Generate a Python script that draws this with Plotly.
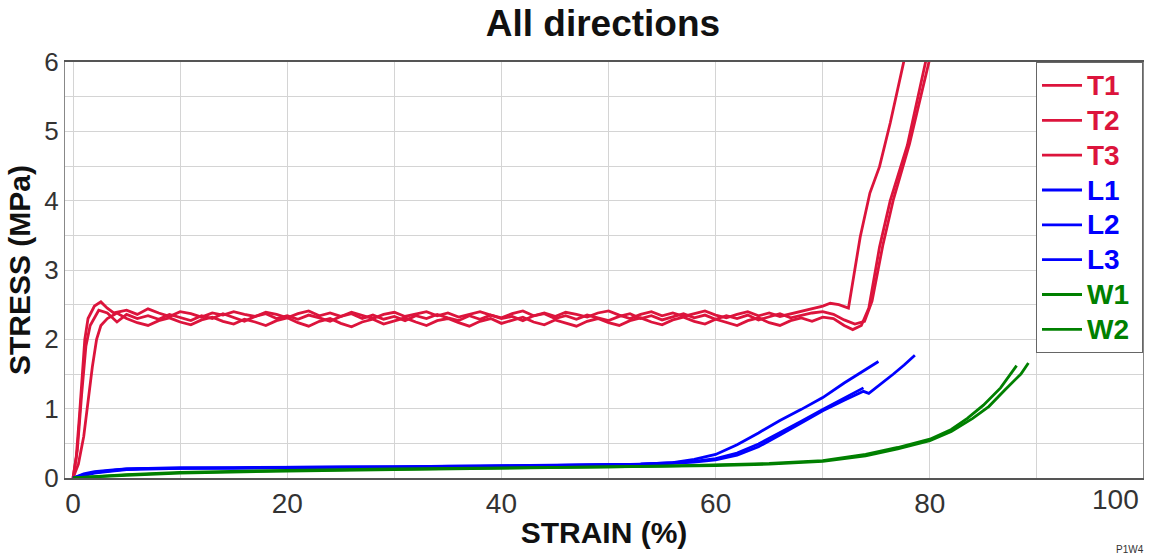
import plotly.graph_objects as go

# ---------------- data ----------------
plateau_x = list(range(5, 71))

t1_x = [0, 0.3, 0.6, 0.9, 1.1, 1.4, 2.0, 2.6, 3.2, 3.8] + plateau_x + [70.7, 71.5, 72.4, 73.5, 74.4, 75.3, 76.3, 77.5, 77.7]
t1_y = [0, 0.3, 0.9, 1.6, 2.0, 2.3, 2.48, 2.54, 2.45, 2.38,
        2.42, 2.36, 2.44, 2.38, 2.33, 2.40, 2.37, 2.32, 2.38, 2.35,
        2.40, 2.36, 2.33, 2.39, 2.36, 2.31, 2.37, 2.41, 2.34, 2.38,
        2.33, 2.39, 2.35, 2.30, 2.36, 2.39, 2.33, 2.37, 2.40, 2.34,
        2.38, 2.32, 2.36, 2.40, 2.35, 2.31, 2.37, 2.41, 2.34, 2.38,
        2.33, 2.39, 2.36, 2.32, 2.38, 2.41, 2.35, 2.30, 2.36, 2.40,
        2.34, 2.38, 2.33, 2.37, 2.41, 2.35, 2.31, 2.36, 2.40, 2.34,
        2.38, 2.33, 2.37, 2.41, 2.44, 2.48,
        2.52, 2.50, 2.45, 3.48, 4.11, 4.49, 5.12, 6.0, 6.1]

t2_x = [0, 0.5, 1.0, 1.4, 1.8, 2.2, 2.6, 3.2, 4.1] + plateau_x + [71, 72, 72.8, 73.6, 74.3, 75.3, 76.3, 77.9, 79.6, 79.8]
t2_y = [0, 0.2, 0.6, 1.1, 1.6, 2.0, 2.2, 2.3, 2.38,
        2.30, 2.24, 2.20, 2.27, 2.31, 2.25, 2.21, 2.28, 2.32, 2.26,
        2.22, 2.29, 2.25, 2.20, 2.27, 2.31, 2.24, 2.19, 2.26, 2.30,
        2.23, 2.18, 2.25, 2.29, 2.22, 2.27, 2.31, 2.25, 2.20, 2.27,
        2.30, 2.24, 2.19, 2.26, 2.30, 2.23, 2.28, 2.32, 2.25, 2.21,
        2.28, 2.24, 2.19, 2.26, 2.30, 2.24, 2.20, 2.27, 2.31, 2.25,
        2.21, 2.28, 2.32, 2.26, 2.22, 2.29, 2.25, 2.20, 2.27, 2.31,
        2.24, 2.20, 2.27, 2.31, 2.26, 2.32,
        2.30, 2.20, 2.14, 2.20, 2.45, 3.33, 4.0, 4.8, 6.0, 6.12]

t3_x = [0, 0.4, 0.8, 1.2, 1.6, 2.4, 3.2, 4.1] + plateau_x + [71, 72, 73, 73.9, 74.6, 75.6, 76.6, 78.1, 79.9, 80.1]
t3_y = [0, 0.4, 1.2, 1.9, 2.2, 2.42, 2.38, 2.25,
        2.36, 2.30, 2.34, 2.29, 2.36, 2.32, 2.27, 2.34, 2.30, 2.37,
        2.31, 2.26, 2.33, 2.37, 2.30, 2.34, 2.29, 2.35, 2.31, 2.26,
        2.33, 2.37, 2.30, 2.35, 2.29, 2.33, 2.27, 2.34, 2.30, 2.36,
        2.31, 2.27, 2.34, 2.29, 2.35, 2.30, 2.33, 2.27, 2.34, 2.37,
        2.30, 2.34, 2.29, 2.35, 2.31, 2.27, 2.33, 2.37, 2.30, 2.34,
        2.28, 2.33, 2.37, 2.31, 2.35, 2.29, 2.34, 2.30, 2.35, 2.28,
        2.33, 2.37, 2.31, 2.35, 2.38, 2.40,
        2.36, 2.28, 2.22, 2.26, 2.55, 3.35, 4.02, 4.82, 6.0, 6.12]

l1_x = [0, 0.5, 1, 2, 3, 4, 5, 7, 10, 15, 20, 25, 30, 35, 40, 45, 50, 53, 56, 58, 60, 62, 64, 66, 68, 70, 72, 74, 75.2]
l1_y = [0, 0.02, 0.04, 0.07, 0.09, 0.11, 0.12, 0.13, 0.14, 0.14, 0.15, 0.15, 0.16, 0.16, 0.17, 0.18, 0.19, 0.20,
        0.22, 0.27, 0.34, 0.48, 0.65, 0.83, 0.99, 1.16, 1.37, 1.57, 1.68]

l2_x = [0, 0.5, 1, 2, 3, 4, 5, 7, 10, 15, 20, 25, 30, 35, 40, 45, 50, 53, 56, 58, 60, 62, 64, 66, 68, 70, 72,
        73.8, 74.3, 75.5, 76.6, 77.6, 78.6]
l2_y = [0, 0.03, 0.05, 0.08, 0.10, 0.12, 0.13, 0.14, 0.15, 0.15, 0.15, 0.16, 0.16, 0.17, 0.17, 0.18, 0.19, 0.20,
        0.21, 0.23, 0.26, 0.33, 0.45, 0.62, 0.80, 0.97, 1.12, 1.25, 1.22, 1.36, 1.50, 1.63, 1.77]

l3_x = [0, 0.5, 1, 2, 3, 4, 5, 7, 10, 15, 20, 25, 30, 35, 40, 45, 50, 53, 56, 58, 60, 62, 64, 66, 68, 70, 72, 73.8]
l3_y = [0, 0.03, 0.06, 0.09, 0.11, 0.12, 0.13, 0.14, 0.14, 0.15, 0.15, 0.16, 0.16, 0.17, 0.17, 0.18, 0.19, 0.20,
        0.22, 0.24, 0.28, 0.36, 0.49, 0.65, 0.82, 0.99, 1.15, 1.30]

w1_x = [0, 2, 5, 10, 15, 20, 30, 40, 50, 55, 60, 65, 70, 74, 77, 80, 82, 83.5, 85, 86.6, 88.1]
w1_y = [0, 0.02, 0.05, 0.08, 0.10, 0.11, 0.13, 0.14, 0.16, 0.17, 0.19, 0.21, 0.25, 0.34, 0.44, 0.56, 0.70, 0.86,
        1.05, 1.30, 1.62]

w2_x = [0, 2, 5, 10, 15, 20, 30, 40, 50, 55, 60, 65, 70, 74, 77, 80, 82, 84, 85.5, 87, 88.5, 89.2]
w2_y = [0, 0.02, 0.04, 0.07, 0.09, 0.10, 0.12, 0.14, 0.15, 0.16, 0.18, 0.20, 0.24, 0.32, 0.42, 0.54, 0.67, 0.86,
        1.03, 1.27, 1.50, 1.66]

series_names = ["T1", "T2", "T3", "L1", "L2", "L3", "W1", "W2"]
series_x = [t1_x, t2_x, t3_x, l1_x, l2_x, l3_x, w1_x, w2_x]
series_y = [t1_y, t2_y, t3_y, l1_y, l2_y, l3_y, w1_y, w2_y]

RED, BLUE, GREEN = "#DC143C", "#0000FF", "#008000"
series_colors = [RED, RED, RED, BLUE, BLUE, BLUE, GREEN, GREEN]

x_tick_vals = [0, 20, 40, 60, 80, 100]
x_tick_text = ["0", "20", "40", "60", "80", ""]
y_tick_vals = [0, 1, 2, 3, 4, 5, 6]

FONT = "Liberation Sans, Arial, sans-serif"

fig = go.Figure()
for name, xs, ys, col in zip(series_names, series_x, series_y, series_colors):
    fig.add_trace(go.Scatter(
        x=xs, y=ys, mode="lines", line=dict(color=col, width=2.8),
        name=f"<b><span style='color:{col};font-size:28px'>{name}&nbsp;</span></b>",
    ))

fig.update_layout(
    width=1156, height=556,
    margin=dict(l=65, r=13, t=62, b=78, autoexpand=False),
    paper_bgcolor="white", plot_bgcolor="white",
    font=dict(family=FONT, color="#333333"),
    title=dict(text="<b>All directions</b>", x=0.5216, xanchor="center", y=0.958, yanchor="middle",
               font=dict(size=37, color="#111111", family=FONT)),
    showlegend=True,
    legend=dict(x=1, xanchor="right", y=1, yanchor="top", bgcolor="white",
                bordercolor="#666666", borderwidth=1, font=dict(size=24.5, family=FONT),
                itemwidth=40, tracegroupgap=0),
    xaxis=dict(range=[-0.75, 99.9], tickvals=x_tick_vals, ticktext=x_tick_text, automargin=False,
               showgrid=True, gridcolor="#d4d4d4", gridwidth=1,
               minor=dict(dtick=10, tick0=0, showgrid=True, gridcolor="#d4d4d4"),
               zeroline=False, showline=True, linecolor="#555555", linewidth=1.5, mirror=True,
               ticks="", tickfont=dict(size=28, color="#333333"),
               title=dict(text="<b>STRAIN (%)</b>", font=dict(size=30, color="#111111"), standoff=4)),
    yaxis=dict(range=[0, 6], tickvals=y_tick_vals, automargin=False,
               showgrid=True, gridcolor="#d4d4d4", gridwidth=1,
               minor=dict(dtick=0.5, tick0=0, showgrid=True, gridcolor="#d4d4d4"),
               zeroline=False, showline=True, linecolor="#888888", linewidth=1, mirror=True,
               ticks="", tickfont=dict(size=26, color="#333333"),
               title=dict(text="<b>STRESS (MPa)</b>", font=dict(size=30, color="#111111"), standoff=4)),
    annotations=[
        dict(text="100", x=1, xref="paper", xanchor="right", xshift=-2, y=0, yref="paper",
             yanchor="top", yshift=-4, showarrow=False, font=dict(size=28, color="#333333", family=FONT)),
        dict(text="P1W4", x=0.988, xref="paper", xanchor="center", y=-0.171, yref="paper",
             yanchor="middle", showarrow=False, font=dict(size=10, color="#333333", family=FONT)),
    ],
)

fig.write_html("out.html", config={"displayModeBar": False},
               post_script="document.body.style.margin='0';")
